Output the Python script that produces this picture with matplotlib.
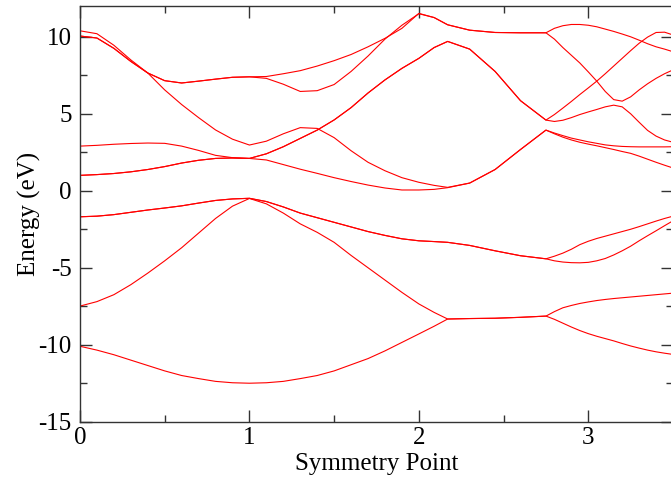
import matplotlib
matplotlib.use('Agg')
import matplotlib.pyplot as plt
from matplotlib.ticker import MultipleLocator

plt.rcParams['font.family'] = ['Liberation Serif', 'DejaVu Serif']
plt.rcParams['axes.unicode_minus'] = False

# k-path coordinate (symmetry points at 0, 1, 2.17, 2.75)
k = [0.0, 0.1, 0.2, 0.3, 0.4, 0.5, 0.6, 0.7, 0.8, 0.9,
     1.0, 1.1, 1.2, 1.3, 1.4, 1.5, 1.6, 1.7, 1.8, 1.9,
     2.0, 2.09, 2.17, 2.3, 2.45, 2.6,
     2.75, 2.8, 2.85, 2.9, 2.95, 3.0, 3.05, 3.1,
     3.15, 3.2, 3.25, 3.3, 3.35, 3.4, 3.45, 3.5]

# band energies (eV)
band_1 = [-10.1, -10.35, -10.65, -11.0, -11.35, -11.7, -12.0, -12.2, -12.38, -12.47,
          -12.5, -12.47, -12.38, -12.2, -12.0, -11.7, -11.3, -10.9, -10.4, -9.85,
          -9.3, -8.8, -8.33, -8.3, -8.28, -8.22,
          -8.14, -8.35, -8.6, -8.85, -9.08, -9.28, -9.45, -9.6,
          -9.75, -9.92, -10.08, -10.22, -10.35, -10.46, -10.55, -10.63]
band_2 = [-7.49, -7.2, -6.75, -6.1, -5.35, -4.55, -3.7, -2.75, -1.8, -1.0,
          -0.5, -0.85, -1.45, -2.15, -2.7, -3.35, -4.2, -5.0, -5.8, -6.6,
          -7.35, -7.9, -8.33, -8.3, -8.28, -8.22,
          -8.14, -7.85, -7.6, -7.45, -7.32, -7.22, -7.13, -7.06,
          -7.0, -6.95, -6.9, -6.85, -6.8, -6.75, -6.7, -6.65]
band_3 = [-1.69, -1.65, -1.55, -1.4, -1.25, -1.12, -0.98, -0.8, -0.63, -0.53,
          -0.49, -0.7, -1.05, -1.45, -1.75, -2.05, -2.35, -2.65, -2.9, -3.12,
          -3.25, -3.3, -3.35, -3.55, -3.9, -4.22,
          -4.42, -4.25, -4.05, -3.8, -3.5, -3.28, -3.1, -2.95,
          -2.8, -2.65, -2.5, -2.33, -2.15, -1.97, -1.8, -1.65]
band_4 = [-1.69, -1.65, -1.55, -1.4, -1.25, -1.12, -0.98, -0.8, -0.63, -0.53,
          -0.49, -0.7, -1.05, -1.45, -1.75, -2.05, -2.35, -2.65, -2.9, -3.12,
          -3.25, -3.3, -3.35, -3.55, -3.9, -4.22,
          -4.42, -4.55, -4.63, -4.67, -4.68, -4.65, -4.55, -4.4,
          -4.17, -3.9, -3.6, -3.25, -2.92, -2.6, -2.27, -1.95]
band_5 = [1.0, 1.05, 1.12, 1.23, 1.38, 1.57, 1.8, 1.98, 2.1, 2.13,
          2.1, 2.4, 2.86, 3.4, 3.94, 4.6, 5.4, 6.35, 7.2, 7.95,
          8.6, 9.3, 9.7, 9.2, 7.75, 5.85,
          4.59, 4.95, 5.37, 5.8, 6.25, 6.68, 7.12, 7.6,
          8.1, 8.6, 9.1, 9.58, 9.98, 10.28, 10.3, 10.12]
band_6 = [1.0, 1.05, 1.12, 1.23, 1.38, 1.57, 1.8, 1.98, 2.1, 2.13,
          2.1, 2.4, 2.86, 3.4, 3.94, 4.6, 5.4, 6.35, 7.2, 7.95,
          8.6, 9.3, 9.7, 9.2, 7.75, 5.85,
          4.59, 4.5, 4.58, 4.75, 4.95, 5.12, 5.28, 5.45,
          5.56, 5.45, 5.0, 4.45, 3.92, 3.55, 3.3, 3.15]
band_7 = [2.9, 2.95, 3.02, 3.07, 3.1, 3.08, 2.9, 2.62, 2.3, 2.15,
          2.1, 2.0, 1.7, 1.4, 1.13, 0.85, 0.6, 0.37, 0.18, 0.05,
          0.05, 0.09, 0.2, 0.5, 1.38, 2.68,
          3.94, 3.75, 3.58, 3.42, 3.3, 3.18, 3.08, 2.98,
          2.92, 2.88, 2.86, 2.85, 2.85, 2.85, 2.85, 2.86]
band_8 = [10.39, 10.2, 9.45, 8.5, 7.65, 6.55, 5.6, 4.75, 3.95, 3.35,
          2.97, 3.22, 3.7, 4.1, 4.05, 3.45, 2.6, 1.85, 1.3, 0.85,
          0.55, 0.35, 0.22, 0.5, 1.38, 2.68,
          3.94, 3.7, 3.48, 3.3, 3.15, 3.03, 2.92, 2.8,
          2.68, 2.55, 2.43, 2.25, 2.05, 1.85, 1.66, 1.48]
band_9 = [10.05, 9.92, 9.25, 8.4, 7.65, 7.15, 7.0, 7.12, 7.25, 7.37,
          7.4, 7.3, 6.92, 6.45, 6.5, 6.9, 7.75, 8.75, 9.85, 10.75,
          11.5, 11.25, 10.78, 10.43, 10.28, 10.26,
          10.26, 9.85, 9.3, 8.8, 8.3, 7.72, 7.12, 6.45,
          5.92, 5.82, 6.1, 6.55, 6.95, 7.3, 7.6, 7.85]
band_10 = [10.05, 9.92, 9.25, 8.4, 7.65, 7.15, 7.0, 7.12, 7.25, 7.37,
           7.4, 7.42, 7.6, 7.8, 8.1, 8.45, 8.85, 9.35, 9.9, 10.55,
           11.52, 11.25, 10.78, 10.43, 10.28, 10.26,
           10.26, 10.55, 10.72, 10.8, 10.8, 10.75, 10.65, 10.5,
           10.35, 10.18, 10.0, 9.78, 9.55, 9.35, 9.2, 9.03]

bands = [band_1, band_2, band_3, band_4, band_5,
         band_6, band_7, band_8, band_9, band_10]

fig = plt.figure(figsize=(6.71, 4.84), dpi=100)
ax = fig.add_axes([0.1192, 0.1287, 0.8838, 0.8589])

for b in bands:
    ax.plot(k, b, color='red', lw=0.8)

ax.set_xlim(0, 3.5)
ax.set_ylim(-15, 12)
ax.xaxis.set_major_locator(MultipleLocator(1))
ax.xaxis.set_minor_locator(MultipleLocator(0.5))
ax.yaxis.set_major_locator(MultipleLocator(5))
ax.yaxis.set_minor_locator(MultipleLocator(2.5))

ax.tick_params(which='both', direction='in', top=True, right=True,
               labelsize=18, width=1.0, color='#333333')
ax.tick_params(which='major', length=8.6, pad=4)
ax.tick_params(which='minor', length=5)
ax.tick_params(axis='y', which='major', pad=6)
for s in ax.spines.values():
    s.set_color('#333333')
    s.set_linewidth(1.0)

ax.set_xlabel('Symmetry Point', fontsize=18, labelpad=3)
ax.set_ylabel('Energy (eV)', fontsize=18, labelpad=-2)

fig.savefig('out.png', dpi=100)
